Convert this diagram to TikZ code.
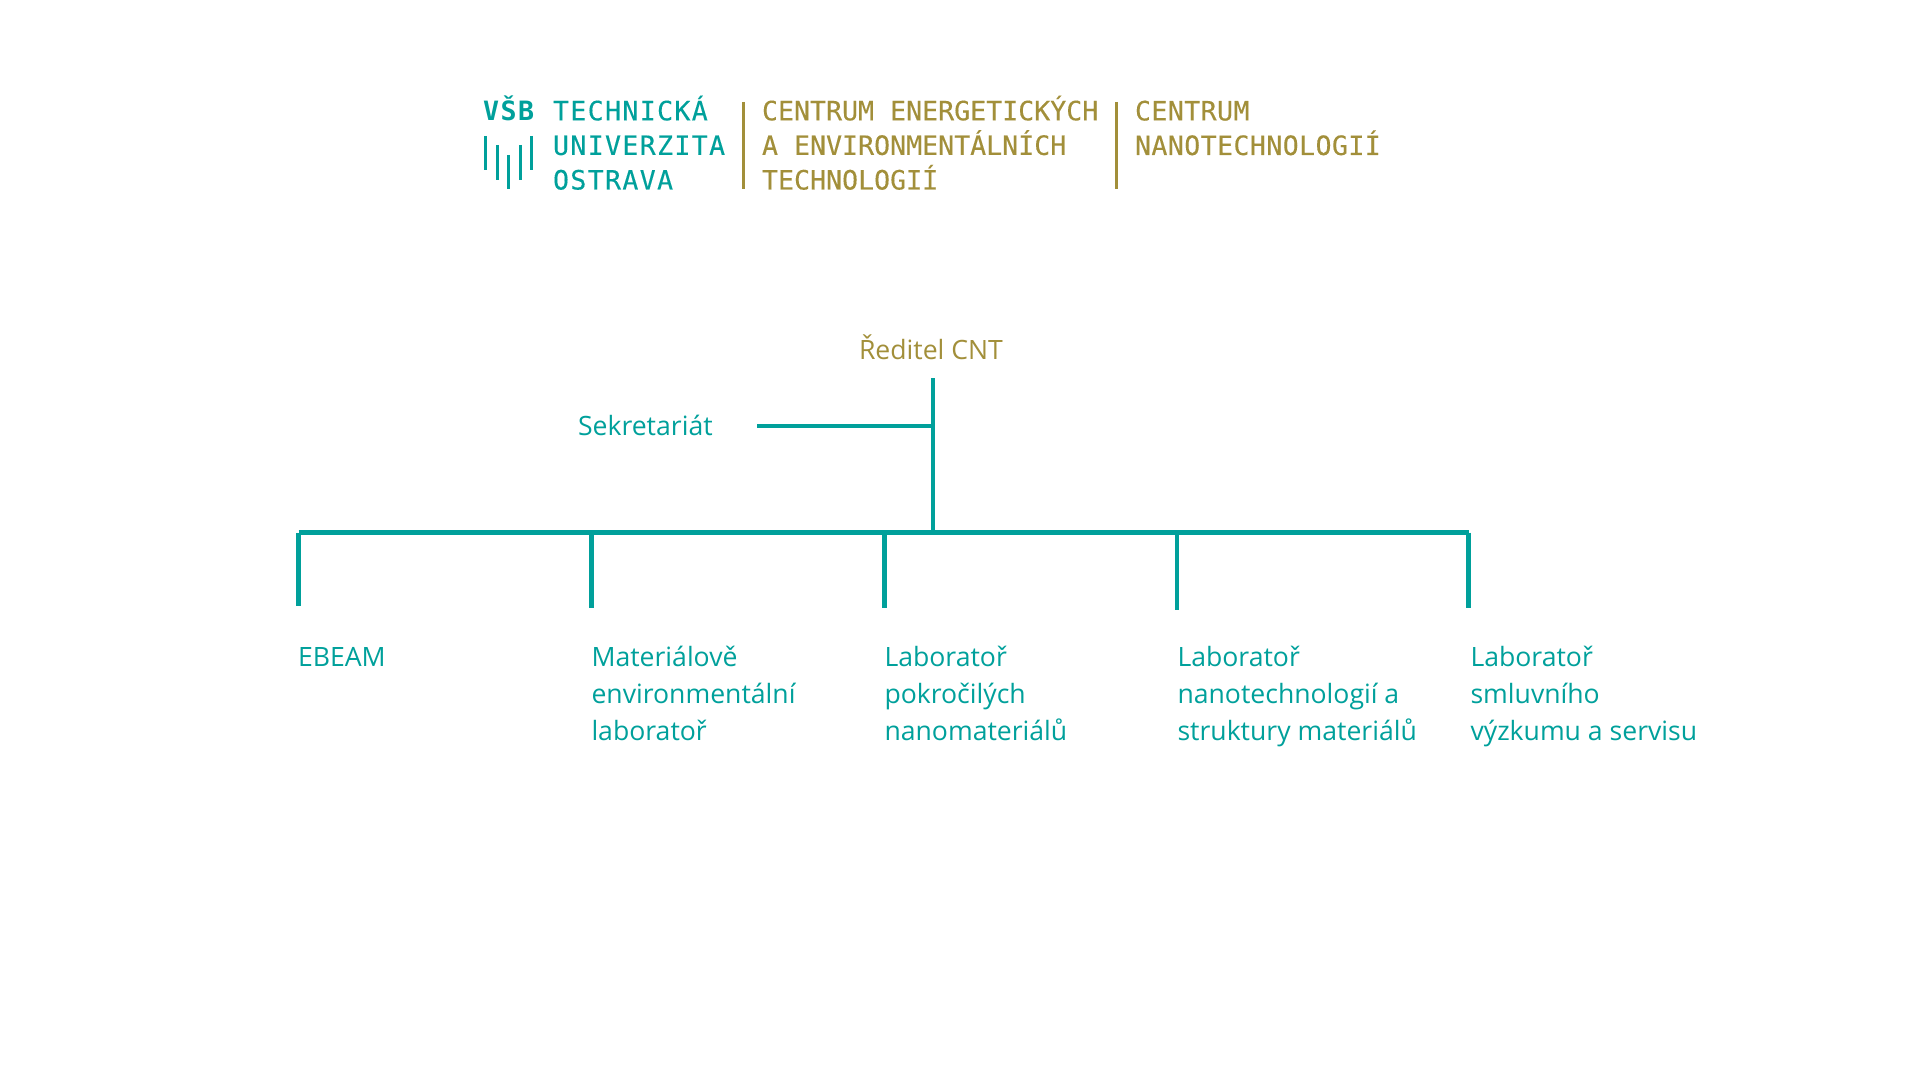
\documentclass[tikz,border=0pt]{standalone}
\usepackage{fontspec}
\setmainfont{Open Sans}
\newfontfamily\logofont[FakeBold=0.25]{DejaVu Sans Mono}
\newfontfamily\logotealfont[LetterSpace=5,FakeBold=0.25]{DejaVu Sans Mono}
\newfontfamily\logoboldfont[LetterSpace=6]{DejaVu Sans Mono Bold}
\newfontfamily\logowidefont[LetterSpace=1.5,FakeBold=0.25]{DejaVu Sans Mono}
\definecolor{vsbteal}{HTML}{00A09B}
\definecolor{cntolive}{HTML}{A28F3A}
\tikzset{
  tealline/.style={draw=vsbteal,line width=2.2pt},
  ticks/.style={draw=vsbteal,line width=1.5pt},
  olivebar/.style={draw=cntolive,line width=1.5pt},
  labeltext/.style={anchor=base west,inner sep=0,outer sep=0,text=vsbteal,align=left,font=\fontsize{13.3pt}{18.5pt}\selectfont},
  headtext/.style={anchor=base west,inner sep=0,outer sep=0,font=\fontsize{13.3pt}{18.5pt}\selectfont},
  logotext/.style={anchor=base west,inner sep=0,outer sep=0,align=left,font=\logofont\fontsize{13.3pt}{17.3pt}\selectfont},
  logoteal/.style={logotext,text=vsbteal,font=\logotealfont\fontsize{13.3pt}{17.3pt}\selectfont},
  logobold/.style={logotext,text=vsbteal,font=\logoboldfont\fontsize{13.3pt}{17.3pt}\selectfont},
  logowide/.style={logotext,text=cntolive,font=\logowidefont\fontsize{13.3pt}{17.3pt}\selectfont},
}
\begin{document}
\begin{tikzpicture}[x=0.5pt,y=-0.5pt]
\useasboundingbox (0,0) rectangle (1920,1080);
% logo
\node[logobold] (vsb) at (483,120.5) {VŠB};
\node[logoteal] (tuo) at (553,189.5) {TECHNICKÁ\\UNIVERZITA\\OSTRAVA};
\node[logotext,text=cntolive] (cet) at (762,189.5) {CENTRUM ENERGETICKÝCH\\A ENVIRONMENTÁLNÍCH\\TECHNOLOGIÍ};
\node[logowide] (cnt) at (1135,155) {CENTRUM\\NANOTECHNOLOGIÍ};
\coordinate (ta1) at (485.5,136); \coordinate (tb1) at (485.5,170);
\coordinate (ta2) at (497,145); \coordinate (tb2) at (497,180);
\coordinate (ta3) at (508.5,155); \coordinate (tb3) at (508.5,189);
\coordinate (ta4) at (520,145); \coordinate (tb4) at (520,180);
\coordinate (ta5) at (531,136); \coordinate (tb5) at (531,170);
\foreach \i in {1,...,5} \draw[ticks] (ta\i) -- (tb\i);
\coordinate (ba1) at (743.5,102); \coordinate (bb1) at (743.5,189);
\coordinate (ba2) at (1116.5,102); \coordinate (bb2) at (1116.5,189);
\draw[olivebar] (ba1) -- (bb1);
\draw[olivebar] (ba2) -- (bb2);
% labels
\node[headtext,text=cntolive] (dir) at (859,359) {Ředitel CNT};
\node[labeltext] (sek) at (578,435) {Sekretariát};
\node[labeltext] (l1) at (298,666) {EBEAM};
\node[labeltext] (l2) at (591.5,740) {Materiálově\\environmentální\\laboratoř};
\node[labeltext] (l3) at (884.5,740) {Laboratoř\\pokročilých\\nanomateriálů};
\node[labeltext] (l4) at (1177.5,740) {Laboratoř\\nanotechnologií a\\struktury materiálů};
\node[labeltext] (l5) at (1470.5,740) {Laboratoř\\smluvního\\výzkumu a servisu};
% connectors
\coordinate (top) at (933,378);
\coordinate (mid) at (933,426);
\coordinate (junc) at (933,532.5);
\coordinate (secend) at (757,426);
\coordinate (h1) at (298.5,532.5); \coordinate (e1) at (298.5,606);
\coordinate (h2) at (591.5,532.5); \coordinate (e2) at (591.5,608);
\coordinate (h3) at (884.5,532.5); \coordinate (e3) at (884.5,608);
\coordinate (h4) at (1177,532.5); \coordinate (e4) at (1177,610);
\coordinate (h5) at (1468.5,532.5); \coordinate (e5) at (1468.5,608);
\draw[tealline] (top) -- (junc);
\draw[tealline] (secend) -- (mid);
\draw[tealline,line cap=square] (h1) -- (h5);
\foreach \i in {1,...,5} \draw[tealline] (h\i) -- (e\i);
\end{tikzpicture}
\end{document}
